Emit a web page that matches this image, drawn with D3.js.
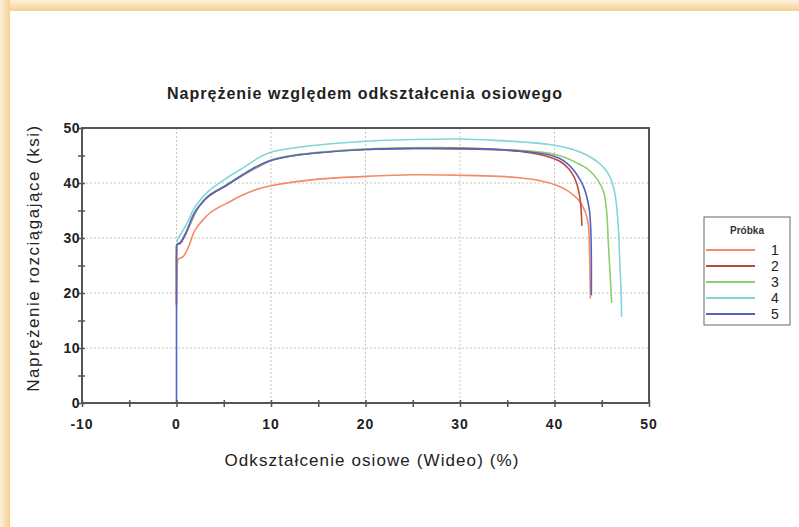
<!DOCTYPE html>
<html>
<head>
<meta charset="utf-8">
<script src="https://cdn.jsdelivr.net/npm/d3@7"></script>
<style>
  body { margin: 0; background: #fff; }
  text { font-family: Arial, "Liberation Sans", sans-serif; }
</style>
</head>
<body>
<div id="chart"></div>
<script>
// data: [strain %, stress ksi]
const sample1 = [[0,18],[0.02,22],[0.1,25.6],[0.2,26.2],[0.7,26.6],[1.3,28.5],[1.8,30.9],[2.1,31.8],[2.8,33.3],[3.5,34.5],[4.4,35.5],[5.3,36.3],[7,37.8],[8.8,39],[10,39.5],[12.5,40.2],[15,40.7],[20,41.2],[25,41.5],[30,41.4],[34.2,41.2],[36.5,40.9],[38.5,40.4],[40.2,39.6],[41.2,38.8],[42,37.8],[42.6,36.8],[43,35.7],[43.4,34],[43.6,32.1],[43.7,28],[43.75,24],[43.8,19]]
const sample2 = [[0,17.8],[0,22.5],[0.02,27.5],[0.1,28.8],[0.4,29],[1,30.8],[1.8,33.9],[2.1,35],[2.8,36.6],[3.5,37.7],[5.3,39.6],[7,41.4],[8.8,43.1],[10,44.1],[12.5,45],[15,45.5],[20,46.1],[25,46.3],[30,46.2],[34.2,46],[37,45.6],[39.5,44.7],[40.6,43.9],[41.5,42.6],[42.1,41],[42.5,39],[42.75,36.5],[42.9,32.2]]
const sample3 = [[0,22.5],[0,24],[0.02,28.2],[0.1,29],[0.4,29.2],[1,31],[1.8,34],[2.1,35.1],[2.8,36.7],[3.5,37.8],[5.3,39.7],[7,41.5],[8.8,43.2],[10,44.2],[12.5,45.1],[15,45.6],[20,46.2],[25,46.4],[30,46.4],[34.2,46.1],[37.5,45.8],[39.5,45.4],[41.2,44.6],[42.3,43.7],[43.3,42.8],[44.1,41.6],[44.7,40.2],[45.2,38.4],[45.5,35.1],[45.7,29],[45.9,23],[46.05,18.2]]
const sample4 = [[0,29.3],[0.2,30],[1,32.3],[1.78,35.1],[2.1,36],[2.8,37.5],[3.5,38.7],[5.3,40.9],[7,42.7],[8.8,44.7],[10,45.6],[12.5,46.4],[15,46.9],[20,47.6],[25,47.9],[30,48],[34.2,47.7],[37,47.4],[39.5,47],[41.5,46.3],[43,45.4],[44,44.5],[44.8,43.5],[45.4,42.4],[45.9,41],[46.2,39.5],[46.45,37.5],[46.75,32.1],[46.9,26],[47.05,20],[47.1,15.7]]
const sample5 = [[0,0],[0,10],[0,20],[0,27.5],[0.03,28.8],[0.37,29.1],[1,31],[1.78,34.2],[2.1,35.1],[2.8,36.6],[3.5,37.8],[5.3,39.6],[7,41.5],[8.8,43.3],[10,44.1],[12.5,45],[15,45.5],[20,46.1],[25,46.3],[30,46.3],[34.2,46.1],[37,45.7],[39.5,45.1],[40.5,44.5],[41.3,43.6],[42.1,42.2],[42.7,40.6],[43.1,39.2],[43.4,37.6],[43.7,35],[43.85,31],[43.9,26],[43.9,19.6]]

const sampleNames = ['1', '2', '3', '4', '5']
const sampleColors = ['#f58a68', '#bb4a3c', '#8dcf6c', '#80d6d4', '#5562c2']
const xTicks = [-10, 0, 10, 20, 30, 40, 50]
const yTicks = [0, 10, 20, 30, 40, 50]

const W = 799, H = 527
const plot = { left: 82, right: 649, top: 128, bottom: 403 }

const svg = d3.select('#chart').append('svg')
  .attr('width', W)
  .attr('height', H)

// orange page frame (top + left bands)
const defs = svg.append('defs')
const gTop = defs.append('linearGradient').attr('id', 'gTop')
  .attr('x1', 0).attr('y1', 0).attr('x2', 0).attr('y2', 1)
gTop.append('stop').attr('offset', 0).attr('stop-color', '#fdf1de')
gTop.append('stop').attr('offset', 1).attr('stop-color', '#f6d08e')
const gLeft = defs.append('linearGradient').attr('id', 'gLeft')
  .attr('x1', 0).attr('y1', 0).attr('x2', 1).attr('y2', 0)
gLeft.append('stop').attr('offset', 0).attr('stop-color', '#fdf1de')
gLeft.append('stop').attr('offset', 1).attr('stop-color', '#f6d08e')

svg.append('rect').attr('x', 0).attr('y', 0).attr('width', W).attr('height', 11)
  .style('fill', 'url(#gTop)')
svg.append('rect').attr('x', 0).attr('y', 0).attr('width', 10).attr('height', H)
  .style('fill', 'url(#gLeft)')

const x = d3.scaleLinear().domain([-10, 50]).range([plot.left, plot.right])
const y = d3.scaleLinear().domain([0, 50]).range([plot.bottom, plot.top])

// dotted grid
const grid = svg.append('g')
grid.selectAll('.gx').data(xTicks.filter(d => d > -10 && d < 50)).join('line')
  .attr('x1', d => x(d)).attr('x2', d => x(d))
  .attr('y1', plot.top).attr('y2', plot.bottom)
  .style('stroke', '#c4c4bc').style('stroke-dasharray', '2,2')
grid.selectAll('.gy').data(yTicks.filter(d => d > 0 && d < 50)).join('line')
  .attr('x1', plot.left).attr('x2', plot.right)
  .attr('y1', d => y(d)).attr('y2', d => y(d))
  .style('stroke', '#c4c4bc').style('stroke-dasharray', '2,2')

// curves
const line = d3.line().x(d => x(d[0])).y(d => y(d[1]))
  .curve(d3.curveCatmullRom.alpha(0.5))
const samples = [sample1, sample2, sample3, sample4, sample5]
svg.append('g').selectAll('path').data(samples).join('path')
  .attr('d', line)
  .style('fill', 'none')
  .style('stroke', (d, i) => sampleColors[i])
  .style('stroke-width', 1.6)

// frame
svg.append('rect')
  .attr('x', plot.left).attr('y', plot.top)
  .attr('width', plot.right - plot.left).attr('height', plot.bottom - plot.top)
  .style('fill', 'none').style('stroke', '#555').style('stroke-width', 2)

// axes: ticks crossing the axis line
const xAxis = svg.append('g').attr('transform', `translate(0,${plot.bottom})`)
  .call(d3.axisBottom(x).tickValues(d3.range(-10, 51, 5)).tickSize(4).tickFormat(''))
xAxis.select('.domain').remove()
xAxis.selectAll('.tick line').attr('y1', -3).style('stroke', '#555').style('stroke-width', 1.5)
svg.append('g').selectAll('text').data(xTicks).join('text')
  .attr('x', d => x(d)).attr('y', plot.bottom + 26)
  .attr('text-anchor', 'middle')
  .style('font-size', '14px').style('font-weight', 'bold').style('letter-spacing', '1px').style('fill', '#222')
  .text(d => d)

const yAxis = svg.append('g').attr('transform', `translate(${plot.left},0)`)
  .call(d3.axisLeft(y).tickValues(d3.range(0, 51, 5)).tickSize(4).tickFormat(''))
yAxis.select('.domain').remove()
yAxis.selectAll('.tick line').attr('x1', 3).style('stroke', '#555').style('stroke-width', 1.5)
svg.append('g').selectAll('text').data(yTicks).join('text')
  .attr('x', plot.left - 2).attr('y', d => y(d) + 5)
  .attr('text-anchor', 'end')
  .style('font-size', '14px').style('font-weight', 'bold').style('letter-spacing', '0.5px').style('fill', '#222')
  .text(d => d)

// titles
svg.append('text')
  .attr('x', 365).attr('y', 99)
  .attr('text-anchor', 'middle')
  .style('font-size', '16px').style('font-weight', 'bold').style('letter-spacing', '1px').style('fill', '#222')
  .text('Naprężenie względem odkształcenia osiowego')

svg.append('text')
  .attr('x', 372).attr('y', 466)
  .attr('text-anchor', 'middle')
  .style('font-size', '17px').style('letter-spacing', '1.1px').style('fill', '#222')
  .text('Odkształcenie osiowe (Wideo) (%)')

svg.append('text')
  .attr('transform', `translate(39,258) rotate(-90)`)
  .attr('text-anchor', 'middle')
  .style('font-size', '17px').style('letter-spacing', '1.5px').style('fill', '#222')
  .text('Naprężenie rozciągające (ksi)')

// legend
const lg = svg.append('g').attr('transform', 'translate(704,217)')
lg.append('rect').attr('width', 86).attr('height', 108)
  .style('fill', '#fff').style('stroke', '#666').style('stroke-width', 1)
lg.append('text').attr('x', 43).attr('y', 17).attr('text-anchor', 'middle')
  .style('font-size', '10px').style('font-weight', 'bold').style('fill', '#333')
  .text('Próbka')
const items = lg.selectAll('.item').data(sampleNames).join('g')
  .attr('transform', (d, i) => `translate(0,${33 + i * 16})`)
items.append('line').attr('x1', 2).attr('x2', 51)
  .style('stroke', (d, i) => sampleColors[i]).style('stroke-width', 2)
items.append('text').attr('x', 71).attr('y', 5).attr('text-anchor', 'middle')
  .style('font-size', '14px').style('fill', '#222')
  .text(d => d)
</script>
</body>
</html>
